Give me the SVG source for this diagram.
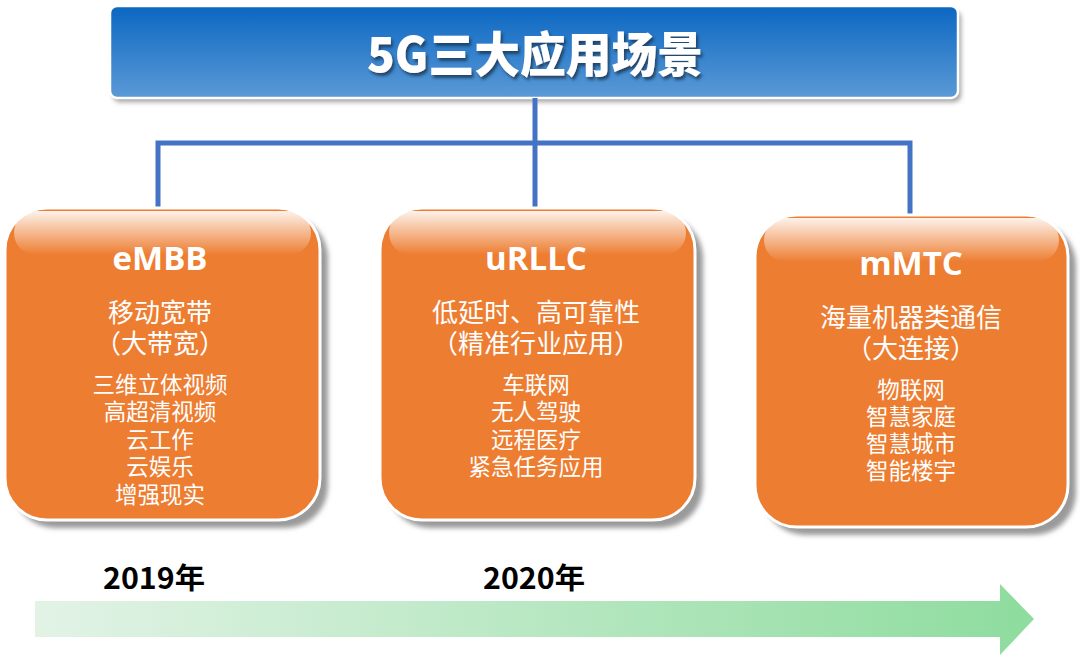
<svg xmlns="http://www.w3.org/2000/svg" width="1080" height="655" viewBox="0 0 1080 655">
<defs>
<linearGradient id="blueG" x1="0" y1="0" x2="0" y2="1">
<stop offset="0" stop-color="#0B67C2"/>
<stop offset="1" stop-color="#5B9AD6"/>
</linearGradient>
<linearGradient id="gloss" x1="0" y1="0" x2="0" y2="1">
<stop offset="0" stop-color="#FFFFFF" stop-opacity="0.9"/>
<stop offset="1" stop-color="#FFFFFF" stop-opacity="0"/>
</linearGradient>
<linearGradient id="greenG" x1="0" y1="0" x2="1" y2="0">
<stop offset="0" stop-color="#E2F3E6"/>
<stop offset="1" stop-color="#8EDC9E"/>
</linearGradient>
<filter id="blur" x="-10%" y="-10%" width="120%" height="120%"><feGaussianBlur stdDeviation="2.5"/></filter>
<filter id="tshadow" x="-5%" y="-20%" width="110%" height="140%"><feDropShadow dx="2" dy="3" stdDeviation="1.5" flood-color="#1F3550" flood-opacity="0.8"/></filter>
</defs>
<style>
.card{fill:#ED7D31;stroke:#FFFFFF;stroke-width:3}
.shadow{fill:#9A9A9A;filter:url(#blur)}
.gloss{fill:url(#gloss)}
.head{font-family:"Open Sans","Noto Sans","Noto Sans CJK SC",sans-serif;font-weight:700;font-size:33px;fill:#FFFFFF;text-anchor:middle}
.sub{font-family:"Liberation Sans","Noto Sans CJK SC",sans-serif;font-size:26px;fill:#FFFFFF;text-anchor:middle}
.item{font-family:"Liberation Sans","Noto Sans CJK SC",sans-serif;font-size:22.5px;fill:#FFFFFF;text-anchor:middle}
.year{font-family:"Noto Sans CJK SC",sans-serif;font-weight:700;font-size:29px;fill:#000000;text-anchor:middle}
.conn{stroke:#4472C4;stroke-width:5;fill:none}
</style>

<g id="title">
<rect x="113" y="11" width="848" height="91" rx="7" fill="#A0A0A0" filter="url(#blur)"/>
<rect x="110" y="6" width="848" height="92" rx="7" fill="url(#blueG)" stroke="#FFFFFF" stroke-width="2.5"/>
<text x="535" y="72" font-family="Noto Sans CJK SC, sans-serif" font-weight="900" font-size="48" fill="#FFFFFF" text-anchor="middle" textLength="336" lengthAdjust="spacingAndGlyphs" filter="url(#tshadow)">5G三大应用场景</text>
</g>

<g id="connectors">
<polyline class="conn" points="535,98 535,143"/>
<polyline class="conn" points="158,212 158,143 910,143 910,214"/>
<polyline class="conn" points="535,143 535,212"/>
</g>

<g id="embb">
<rect class="shadow" x="13" y="216" width="315" height="312" rx="42"/>
<rect class="card" x="5" y="208" width="315" height="312" rx="42"/>
<rect class="gloss" x="14" y="211" width="297" height="44" rx="22"/>
<text class="head" x="160" y="270">eMBB</text>
<text class="sub" x="160" y="322">移动宽带</text>
<text class="sub" x="160" y="353">（大带宽）</text>
<text class="item" x="160" y="393">三维立体视频</text>
<text class="item" x="160" y="420">高超清视频</text>
<text class="item" x="160" y="448">云工作</text>
<text class="item" x="160" y="475">云娱乐</text>
<text class="item" x="160" y="503">增强现实</text>
</g>

<g id="urllc">
<rect class="shadow" x="388" y="216" width="315" height="312" rx="42"/>
<rect class="card" x="380" y="208" width="315" height="312" rx="42"/>
<rect class="gloss" x="389" y="211" width="297" height="44" rx="22"/>
<text class="head" x="536" y="270">uRLLC</text>
<text class="sub" x="536" y="322">低延时、高可靠性</text>
<text class="sub" x="536" y="353">（精准行业应用）</text>
<text class="item" x="536" y="393">车联网</text>
<text class="item" x="536" y="420">无人驾驶</text>
<text class="item" x="536" y="448">远程医疗</text>
<text class="item" x="536" y="475">紧急任务应用</text>
</g>

<g id="mmtc">
<rect class="shadow" x="763" y="223" width="313" height="312" rx="42"/>
<rect class="card" x="755" y="215" width="313" height="312" rx="42"/>
<rect class="gloss" x="764" y="218" width="295" height="44" rx="22"/>
<text class="head" x="911" y="275">mMTC</text>
<text class="sub" x="911" y="327">海量机器类通信</text>
<text class="sub" x="911" y="358">（大连接）</text>
<text class="item" x="911" y="398">物联网</text>
<text class="item" x="911" y="425">智慧家庭</text>
<text class="item" x="911" y="452">智慧城市</text>
<text class="item" x="911" y="479">智能楼宇</text>
</g>

<g id="timeline">
<text class="year" x="154" y="589" textLength="102" lengthAdjust="spacingAndGlyphs">2019年</text>
<text class="year" x="534" y="589" textLength="102" lengthAdjust="spacingAndGlyphs">2020年</text>
<polygon points="35,601 1000,601 1000,584 1034,619 1000,655 1000,637 35,637" fill="url(#greenG)"/>
</g>
</svg>
